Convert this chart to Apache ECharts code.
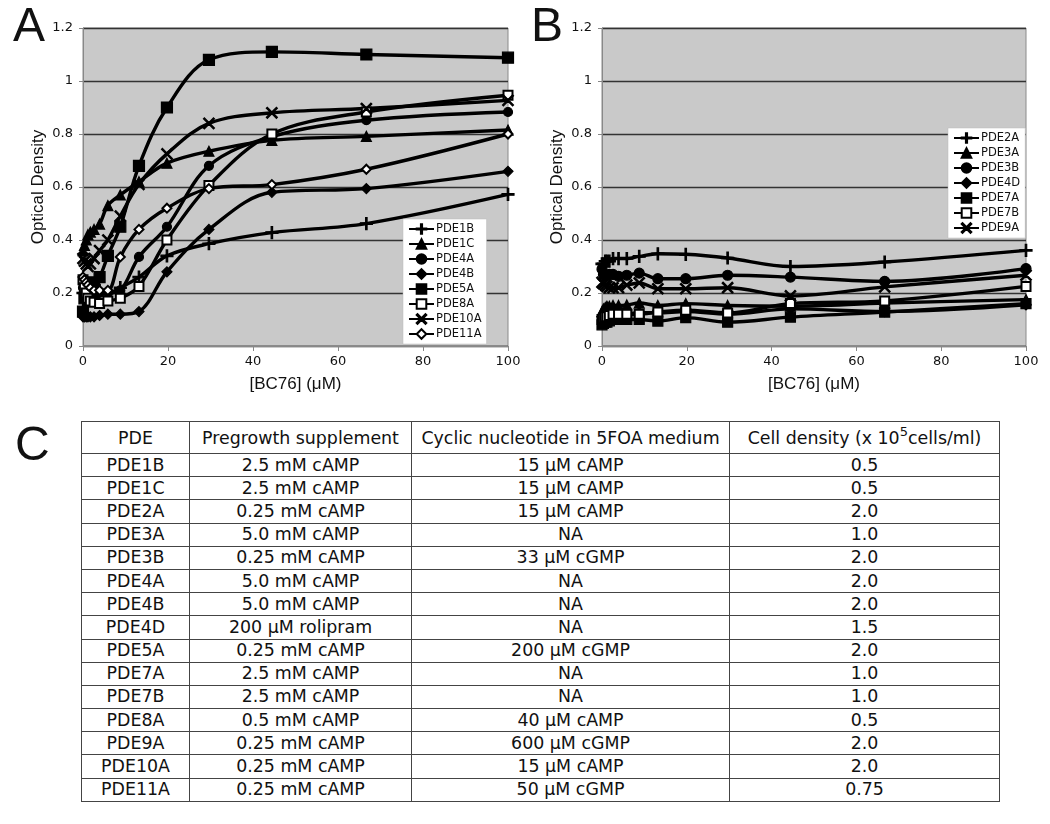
<!DOCTYPE html>
<html>
<head>
<meta charset="utf-8">
<script src="https://cdn.jsdelivr.net/npm/echarts@6/dist/echarts.min.js"></script>
<style>
  html, body { margin: 0; padding: 0; background: #fff; }
  #wrap { position: relative; width: 1050px; height: 824px; }
  #chart { position: absolute; left: 0; top: 0; width: 1050px; height: 824px; }
  #tbl { position: absolute; left: 81px; top: 421px; border-collapse: collapse; table-layout: fixed;
         font-family: "DejaVu Sans", Verdana, sans-serif; font-size: 17.4px; color: #111; background: #fff; }
  #tbl td { border: 1.8px solid #444; text-align: center; padding: 0; white-space: nowrap; overflow: hidden; }
  #tbl tr.h td { height: 31px; }
  #tbl tr.r td { height: 22.2px; line-height: 21px; }
  sup { font-size: 13px; vertical-align: 8px; line-height: 0; }
</style>
</head>
<body>
<div id="wrap">
  <div id="chart"></div>
  <table id="tbl"></table>
</div>
<script>
// ---------- DATA ----------
const concentrations = [0, 0.34, 0.77, 1.16, 1.73, 2.6, 3.9, 5.85, 8.78, 13.17, 19.75, 29.63, 44.44, 66.67, 100];

// Panel A
const namesA = ['PDE1B', 'PDE1C', 'PDE4A', 'PDE4B', 'PDE5A', 'PDE8A', 'PDE10A', 'PDE11A'];
const PDE1B  = [0.20, 0.20, 0.20, 0.21, 0.21, 0.21, 0.21, 0.20, 0.22, 0.26, 0.34, 0.386, 0.428, 0.462, 0.572];
const PDE1C  = [0.36, 0.38, 0.40, 0.42, 0.43, 0.44, 0.46, 0.53, 0.57, 0.62, 0.69, 0.735, 0.776, 0.791, 0.815];
const PDE4A  = [0.22, 0.20, 0.19, 0.19, 0.19, 0.20, 0.20, 0.20, 0.21, 0.336, 0.45, 0.68, 0.79, 0.852, 0.883];
const PDE4B  = [0.11, 0.11, 0.11, 0.11, 0.11, 0.11, 0.115, 0.12, 0.12, 0.13, 0.28, 0.44, 0.58, 0.594, 0.659];
const PDE5A  = [0.13, 0.18, 0.20, 0.22, 0.23, 0.24, 0.26, 0.34, 0.45, 0.68, 0.90, 1.08, 1.11, 1.10, 1.088];
const PDE8A  = [0.25, 0.22, 0.20, 0.18, 0.17, 0.165, 0.16, 0.17, 0.18, 0.225, 0.40, 0.606, 0.80, 0.883, 0.946];
const PDE10A = [0.33, 0.32, 0.31, 0.30, 0.31, 0.33, 0.36, 0.40, 0.49, 0.61, 0.725, 0.84, 0.88, 0.896, 0.927];
const PDE11A = [0.26, 0.25, 0.24, 0.23, 0.22, 0.21, 0.21, 0.21, 0.336, 0.44, 0.52, 0.594, 0.609, 0.667, 0.80];

// Panel B
const namesB = ['PDE2A', 'PDE3A', 'PDE3B', 'PDE4D', 'PDE7A', 'PDE7B', 'PDE9A'];
const PDE2A = [0.31, 0.31, 0.32, 0.32, 0.32, 0.33, 0.33, 0.33, 0.338, 0.348, 0.346, 0.332, 0.30, 0.317, 0.361];
const PDE3A = [0.13, 0.14, 0.145, 0.15, 0.15, 0.153, 0.153, 0.155, 0.162, 0.153, 0.16, 0.153, 0.15, 0.162, 0.175];
const PDE3B = [0.29, 0.27, 0.265, 0.267, 0.27, 0.27, 0.263, 0.267, 0.275, 0.254, 0.254, 0.267, 0.26, 0.244, 0.292];
const PDE4D = [0.11, 0.115, 0.12, 0.12, 0.125, 0.125, 0.125, 0.122, 0.126, 0.125, 0.13, 0.12, 0.14, 0.13, 0.155];
const PDE7A = [0.08, 0.085, 0.09, 0.09, 0.095, 0.10, 0.10, 0.10, 0.10, 0.094, 0.107, 0.09, 0.109, 0.128, 0.16];
const PDE7B = [0.10, 0.105, 0.11, 0.11, 0.115, 0.12, 0.12, 0.12, 0.12, 0.128, 0.135, 0.125, 0.16, 0.17, 0.225];
const PDE9A = [0.24, 0.235, 0.23, 0.225, 0.22, 0.22, 0.22, 0.23, 0.238, 0.216, 0.216, 0.22, 0.189, 0.223, 0.267];

// Panel C table
const tableHeader = ['PDE', 'Pregrowth supplement', 'Cyclic nucleotide in 5FOA medium', 'Cell density (x 10<sup>5</sup>cells/ml)'];
const tablePDE = ['PDE1B','PDE1C','PDE2A','PDE3A','PDE3B','PDE4A','PDE4B','PDE4D','PDE5A','PDE7A','PDE7B','PDE8A','PDE9A','PDE10A','PDE11A'];
const tableSupplement = ['2.5 mM cAMP','2.5 mM cAMP','0.25 mM cAMP','5.0 mM cAMP','0.25 mM cAMP','5.0 mM cAMP','5.0 mM cAMP','200 μM rolipram','0.25 mM cAMP','2.5 mM cAMP','2.5 mM cAMP','0.5 mM cAMP','0.25 mM cAMP','0.25 mM cAMP','0.25 mM cAMP'];
const tableNucleotide = ['15 μM cAMP','15 μM cAMP','15 μM cAMP','NA','33 μM cGMP','NA','NA','NA','200 μM cGMP','NA','NA','40 μM cAMP','600 μM cGMP','15 μM cAMP','50 μM cGMP'];
const tableDensity = ['0.5','0.5','2.0','1.0','2.0','2.0','2.0','1.5','2.0','1.0','1.0','0.5','2.0','2.0','0.75'];

// ---------- TABLE ----------
(function buildTable() {
  const t = document.getElementById('tbl');
  const widths = [108, 222, 318, 270];
  const cg = document.createElement('colgroup');
  widths.forEach(w => { const c = document.createElement('col'); c.style.width = w + 'px'; cg.appendChild(c); });
  t.appendChild(cg);
  const h = document.createElement('tr'); h.className = 'h';
  tableHeader.forEach(s => { const td = document.createElement('td'); td.innerHTML = s; h.appendChild(td); });
  t.appendChild(h);
  tablePDE.forEach((p, i) => {
    const tr = document.createElement('tr'); tr.className = 'r';
    [p, tableSupplement[i], tableNucleotide[i], tableDensity[i]].forEach(s => {
      const td = document.createElement('td'); td.textContent = s; tr.appendChild(td);
    });
    t.appendChild(tr);
  });
})();

// ---------- CHART ----------
const PLUS = 'path://M0,4.4H10V5.6H0Z M4.4,0H5.6V10H4.4Z';
const CROSS = 'path://M0,0.85L0.85,0L10,9.15L9.15,10Z M9.15,0L10,0.85L0.85,10L0,9.15Z';
const symbolMap = {
  PDE1B: [PLUS, 12], PDE1C: ['triangle', 10], PDE4A: ['circle', 9], PDE4B: ['diamond', 10],
  PDE5A: ['rect', 11], PDE8A: ['emptyRect', 9], PDE10A: [CROSS, 11], PDE11A: ['emptyDiamond', 9],
  PDE2A: [PLUS, 12], PDE3A: ['triangle', 10], PDE3B: ['circle', 10], PDE4D: ['diamond', 10],
  PDE7A: ['rect', 10], PDE7B: ['emptyRect', 9], PDE9A: [CROSS, 11]
};
const valuesA = { PDE1B, PDE1C, PDE4A, PDE4B, PDE5A, PDE8A, PDE10A, PDE11A };
const valuesB = { PDE2A, PDE3A, PDE3B, PDE4D, PDE7A, PDE7B, PDE9A };

function mkSeries(name, vals, idx) {
  return {
    name: name, type: 'line', xAxisIndex: idx, yAxisIndex: idx,
    data: concentrations.map((x, i) => [x, vals[i]]),
    smooth: 0.35,
    symbol: symbolMap[name][0], symbolSize: symbolMap[name][1],
    showAllSymbol: true,
    lineStyle: { color: '#000', width: 3.4 },
    itemStyle: { color: '#000', borderColor: '#000', borderWidth: 1.2 },
    emphasis: { disabled: true },
    animation: false
  };
}

const axisFont = { fontFamily: 'DejaVu Sans', fontSize: 13, color: '#111' };
const nameFont = { fontFamily: 'Liberation Sans', fontSize: 17, color: '#111' };

function mkX(idx) {
  return {
    type: 'value', gridIndex: idx, min: 0, max: 100, interval: 20,
    name: '[BC76] (μM)', nameLocation: 'middle', nameGap: 30, nameTextStyle: nameFont,
    axisLine: { show: true, lineStyle: { color: '#888', width: 1 } },
    axisTick: { show: true, length: 5, lineStyle: { color: '#888' } },
    axisLabel: Object.assign({ margin: 9 }, axisFont),
    splitLine: { show: false }
  };
}
function mkY(idx) {
  return {
    type: 'value', gridIndex: idx, min: 0, max: 1.2, interval: 0.2,
    name: 'Optical Density', nameLocation: 'middle', nameGap: 36, nameTextStyle: nameFont,
    axisLine: { show: true, lineStyle: { color: '#888', width: 1 } },
    axisTick: { show: true, length: 4, lineStyle: { color: '#888' } },
    axisLabel: Object.assign({ margin: 10 }, axisFont),
    splitLine: { show: true, lineStyle: { color: '#333', width: 1.3 } }
  };
}
function mkLegend(names, left, top) {
  return {
    data: names, orient: 'vertical', left: left, top: top,
    backgroundColor: '#fff', borderColor: '#bbb', borderWidth: 0.5,
    padding: [4, 5, 4, 5], itemGap: 3, itemWidth: 25, itemHeight: 12,
    textStyle: { fontFamily: 'DejaVu Sans', fontSize: 11.5, color: '#111', padding: [0, 0, 0, -3] },
    selectedMode: false
  };
}

const chart = echarts.init(document.getElementById('chart'), null, { renderer: 'canvas' });
const letter = { fontFamily: 'Liberation Sans', fontSize: 48, fontWeight: 'normal', color: '#111' };
chart.setOption({
  animation: false,
  backgroundColor: '#fff',
  title: [
    { text: 'A', left: 8, top: -1, textStyle: letter },
    { text: 'B', left: 526, top: -1, textStyle: letter },
    { text: 'C', left: 10, top: 418, textStyle: letter }
  ],
  grid: [
    { left: 83, top: 28, width: 425, height: 318, show: true, backgroundColor: '#c9c9c9', borderColor: '#8a8a8a', borderWidth: 1 },
    { left: 602, top: 28, width: 424, height: 318, show: true, backgroundColor: '#c9c9c9', borderColor: '#8a8a8a', borderWidth: 1 }
  ],
  xAxis: [mkX(0), mkX(1)],
  yAxis: [mkY(0), mkY(1)],
  legend: [mkLegend(namesA, 403, 219), mkLegend(namesB, 948, 128)],
  series: namesA.map(n => mkSeries(n, valuesA[n], 0)).concat(namesB.map(n => mkSeries(n, valuesB[n], 1)))
});
</script>
</body>
</html>
